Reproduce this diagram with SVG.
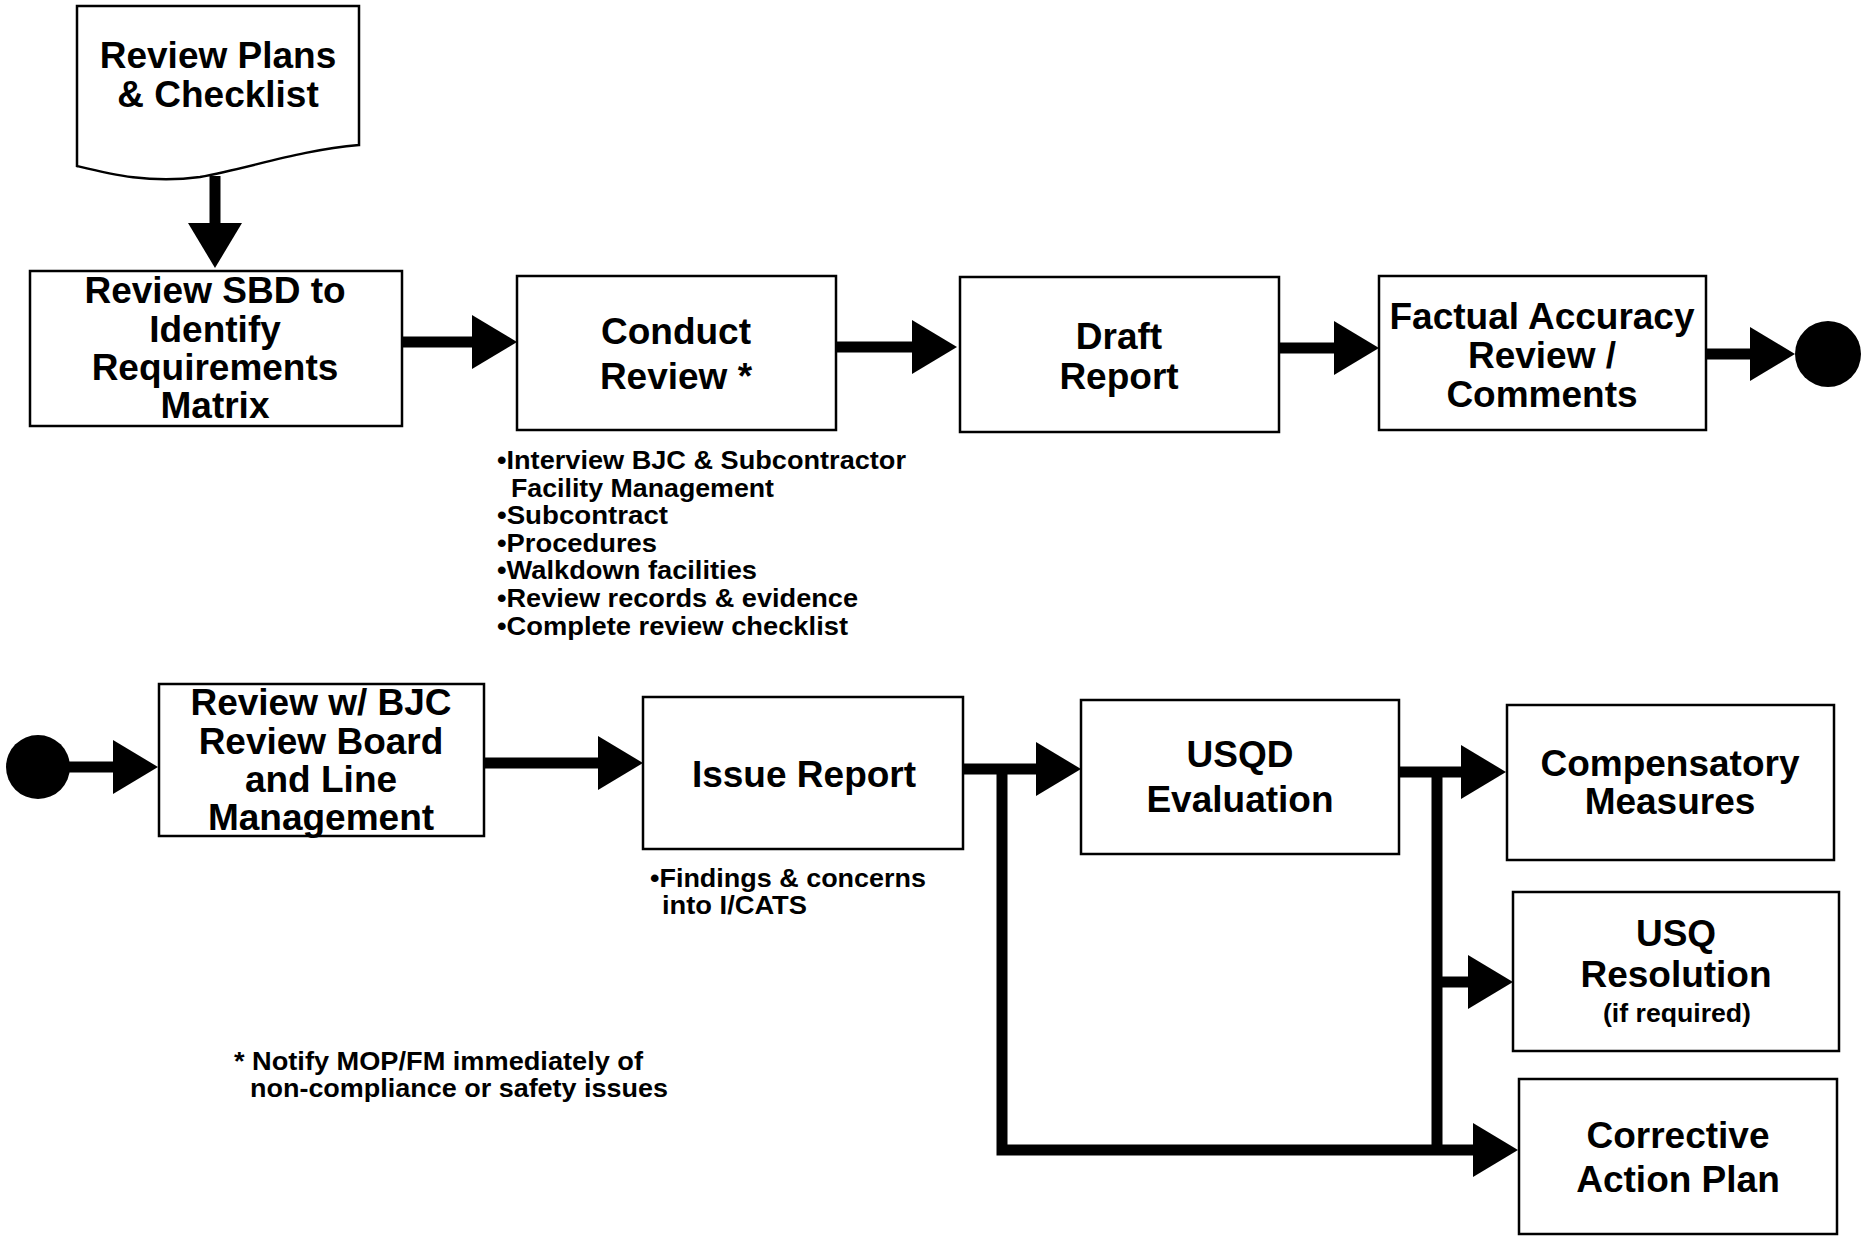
<svg xmlns="http://www.w3.org/2000/svg" width="1864" height="1238" viewBox="0 0 1864 1238">
<defs>
<style>
.box{fill:#fff;stroke:#000;stroke-width:2.5}
.t{font-family:"Liberation Sans",Arial,sans-serif;font-weight:bold;font-size:37px;fill:#000;text-anchor:middle}
.s{font-family:"Liberation Sans",Arial,sans-serif;font-weight:bold;font-size:25px;fill:#000}
.c{fill:none;stroke:#000;stroke-width:11}
</style>
<marker id="ah" markerUnits="userSpaceOnUse" markerWidth="46" markerHeight="54" refX="1" refY="27" orient="auto">
<path d="M0,0 L45,27 L0,54 Z" fill="#000"/>
</marker>
</defs>
<rect width="1864" height="1238" fill="#fff"/>
<g id="connectors">
<line class="c" x1="215" y1="176" x2="215" y2="224" marker-end="url(#ah)"/>
<line class="c" x1="402" y1="342" x2="473" y2="342" marker-end="url(#ah)"/>
<line class="c" x1="836" y1="347" x2="913" y2="347" marker-end="url(#ah)"/>
<line class="c" x1="1279" y1="348" x2="1335" y2="348" marker-end="url(#ah)"/>
<line class="c" x1="1706" y1="354" x2="1751" y2="354" marker-end="url(#ah)"/>
<line class="c" x1="62" y1="767" x2="114" y2="767" marker-end="url(#ah)"/>
<line class="c" x1="484" y1="763" x2="599" y2="763" marker-end="url(#ah)"/>
<line class="c" x1="963" y1="769" x2="1037" y2="769" marker-end="url(#ah)"/>
<polyline class="c" points="1002,769 1002,1150 1474,1150" marker-end="url(#ah)"/>
<line class="c" x1="1399" y1="772" x2="1462" y2="772" marker-end="url(#ah)"/>
<line class="c" x1="1437" y1="772" x2="1437" y2="1150"/>
<line class="c" x1="1437" y1="982" x2="1469" y2="982" marker-end="url(#ah)"/>
</g>
<g id="n-plans">
<path class="box" d="M77,6 H359 V145 C300,150 250,168 200,177 C150,184 110,174 77,166 Z"/>
<text class="t" x="218" y="68">Review Plans</text>
<text class="t" x="218" y="107">&amp; Checklist</text>
</g>
<g id="n-sbd">
<rect class="box" x="30" y="271" width="372" height="155"/>
<text class="t" x="215" y="303">Review SBD to</text>
<text class="t" x="215" y="342">Identify</text>
<text class="t" x="215" y="380">Requirements</text>
<text class="t" x="215" y="418">Matrix</text>
</g>
<g id="n-conduct">
<rect class="box" x="517" y="276" width="319" height="154"/>
<text class="t" x="676" y="344">Conduct</text>
<text class="t" x="676" y="389">Review *</text>
</g>
<g id="n-conduct-notes">
<text class="s" x="497" y="469" textLength="409" lengthAdjust="spacingAndGlyphs">•Interview BJC &amp; Subcontractor</text>
<text class="s" x="511" y="497" textLength="263" lengthAdjust="spacingAndGlyphs">Facility Management</text>
<text class="s" x="497" y="524" textLength="171" lengthAdjust="spacingAndGlyphs">•Subcontract</text>
<text class="s" x="497" y="552" textLength="160" lengthAdjust="spacingAndGlyphs">•Procedures</text>
<text class="s" x="497" y="579" textLength="260" lengthAdjust="spacingAndGlyphs">•Walkdown facilities</text>
<text class="s" x="497" y="607" textLength="361" lengthAdjust="spacingAndGlyphs">•Review records &amp; evidence</text>
<text class="s" x="497" y="635" textLength="351" lengthAdjust="spacingAndGlyphs">•Complete review checklist</text>
</g>
<g id="n-draft">
<rect class="box" x="960" y="277" width="319" height="155"/>
<text class="t" x="1119" y="349">Draft</text>
<text class="t" x="1119" y="389">Report</text>
</g>
<g id="n-factual">
<rect class="box" x="1379" y="276" width="327" height="154"/>
<text class="t" x="1542" y="329">Factual Accuracy</text>
<text class="t" x="1542" y="368">Review /</text>
<text class="t" x="1542" y="407">Comments</text>
</g>
<g id="n-end">
<circle cx="1828" cy="354" r="33" fill="#000"/>
</g>
<g id="n-start">
<circle cx="38" cy="767" r="32" fill="#000"/>
</g>
<g id="n-bjc">
<rect class="box" x="159" y="684" width="325" height="152"/>
<text class="t" x="321" y="715">Review w/ BJC</text>
<text class="t" x="321" y="754">Review Board</text>
<text class="t" x="321" y="792">and Line</text>
<text class="t" x="321" y="830">Management</text>
</g>
<g id="n-issue">
<rect class="box" x="643" y="697" width="320" height="152"/>
<text class="t" x="804" y="787">Issue Report</text>
</g>
<g id="n-issue-notes">
<text class="s" x="650" y="887" textLength="276" lengthAdjust="spacingAndGlyphs">•Findings &amp; concerns</text>
<text class="s" x="662" y="914" textLength="145" lengthAdjust="spacingAndGlyphs">into I/CATS</text>
</g>
<g id="n-usqd">
<rect class="box" x="1081" y="700" width="318" height="154"/>
<text class="t" x="1240" y="767">USQD</text>
<text class="t" x="1240" y="812">Evaluation</text>
</g>
<g id="n-comp">
<rect class="box" x="1507" y="705" width="327" height="155"/>
<text class="t" x="1670" y="776">Compensatory</text>
<text class="t" x="1670" y="814">Measures</text>
</g>
<g id="n-usq">
<rect class="box" x="1513" y="892" width="326" height="159"/>
<text class="t" x="1676" y="946">USQ</text>
<text class="t" x="1676" y="987">Resolution</text>
<text class="s" x="1603" y="1022" textLength="148" lengthAdjust="spacingAndGlyphs">(if required)</text>
</g>
<g id="n-cap">
<rect class="box" x="1519" y="1079" width="318" height="155"/>
<text class="t" x="1678" y="1148">Corrective</text>
<text class="t" x="1678" y="1192">Action Plan</text>
</g>
<g id="n-footnote">
<text class="s" x="234" y="1070" textLength="409" lengthAdjust="spacingAndGlyphs">* Notify MOP/FM immediately of</text>
<text class="s" x="250" y="1097" textLength="418" lengthAdjust="spacingAndGlyphs">non-compliance or safety issues</text>
</g>
</svg>
